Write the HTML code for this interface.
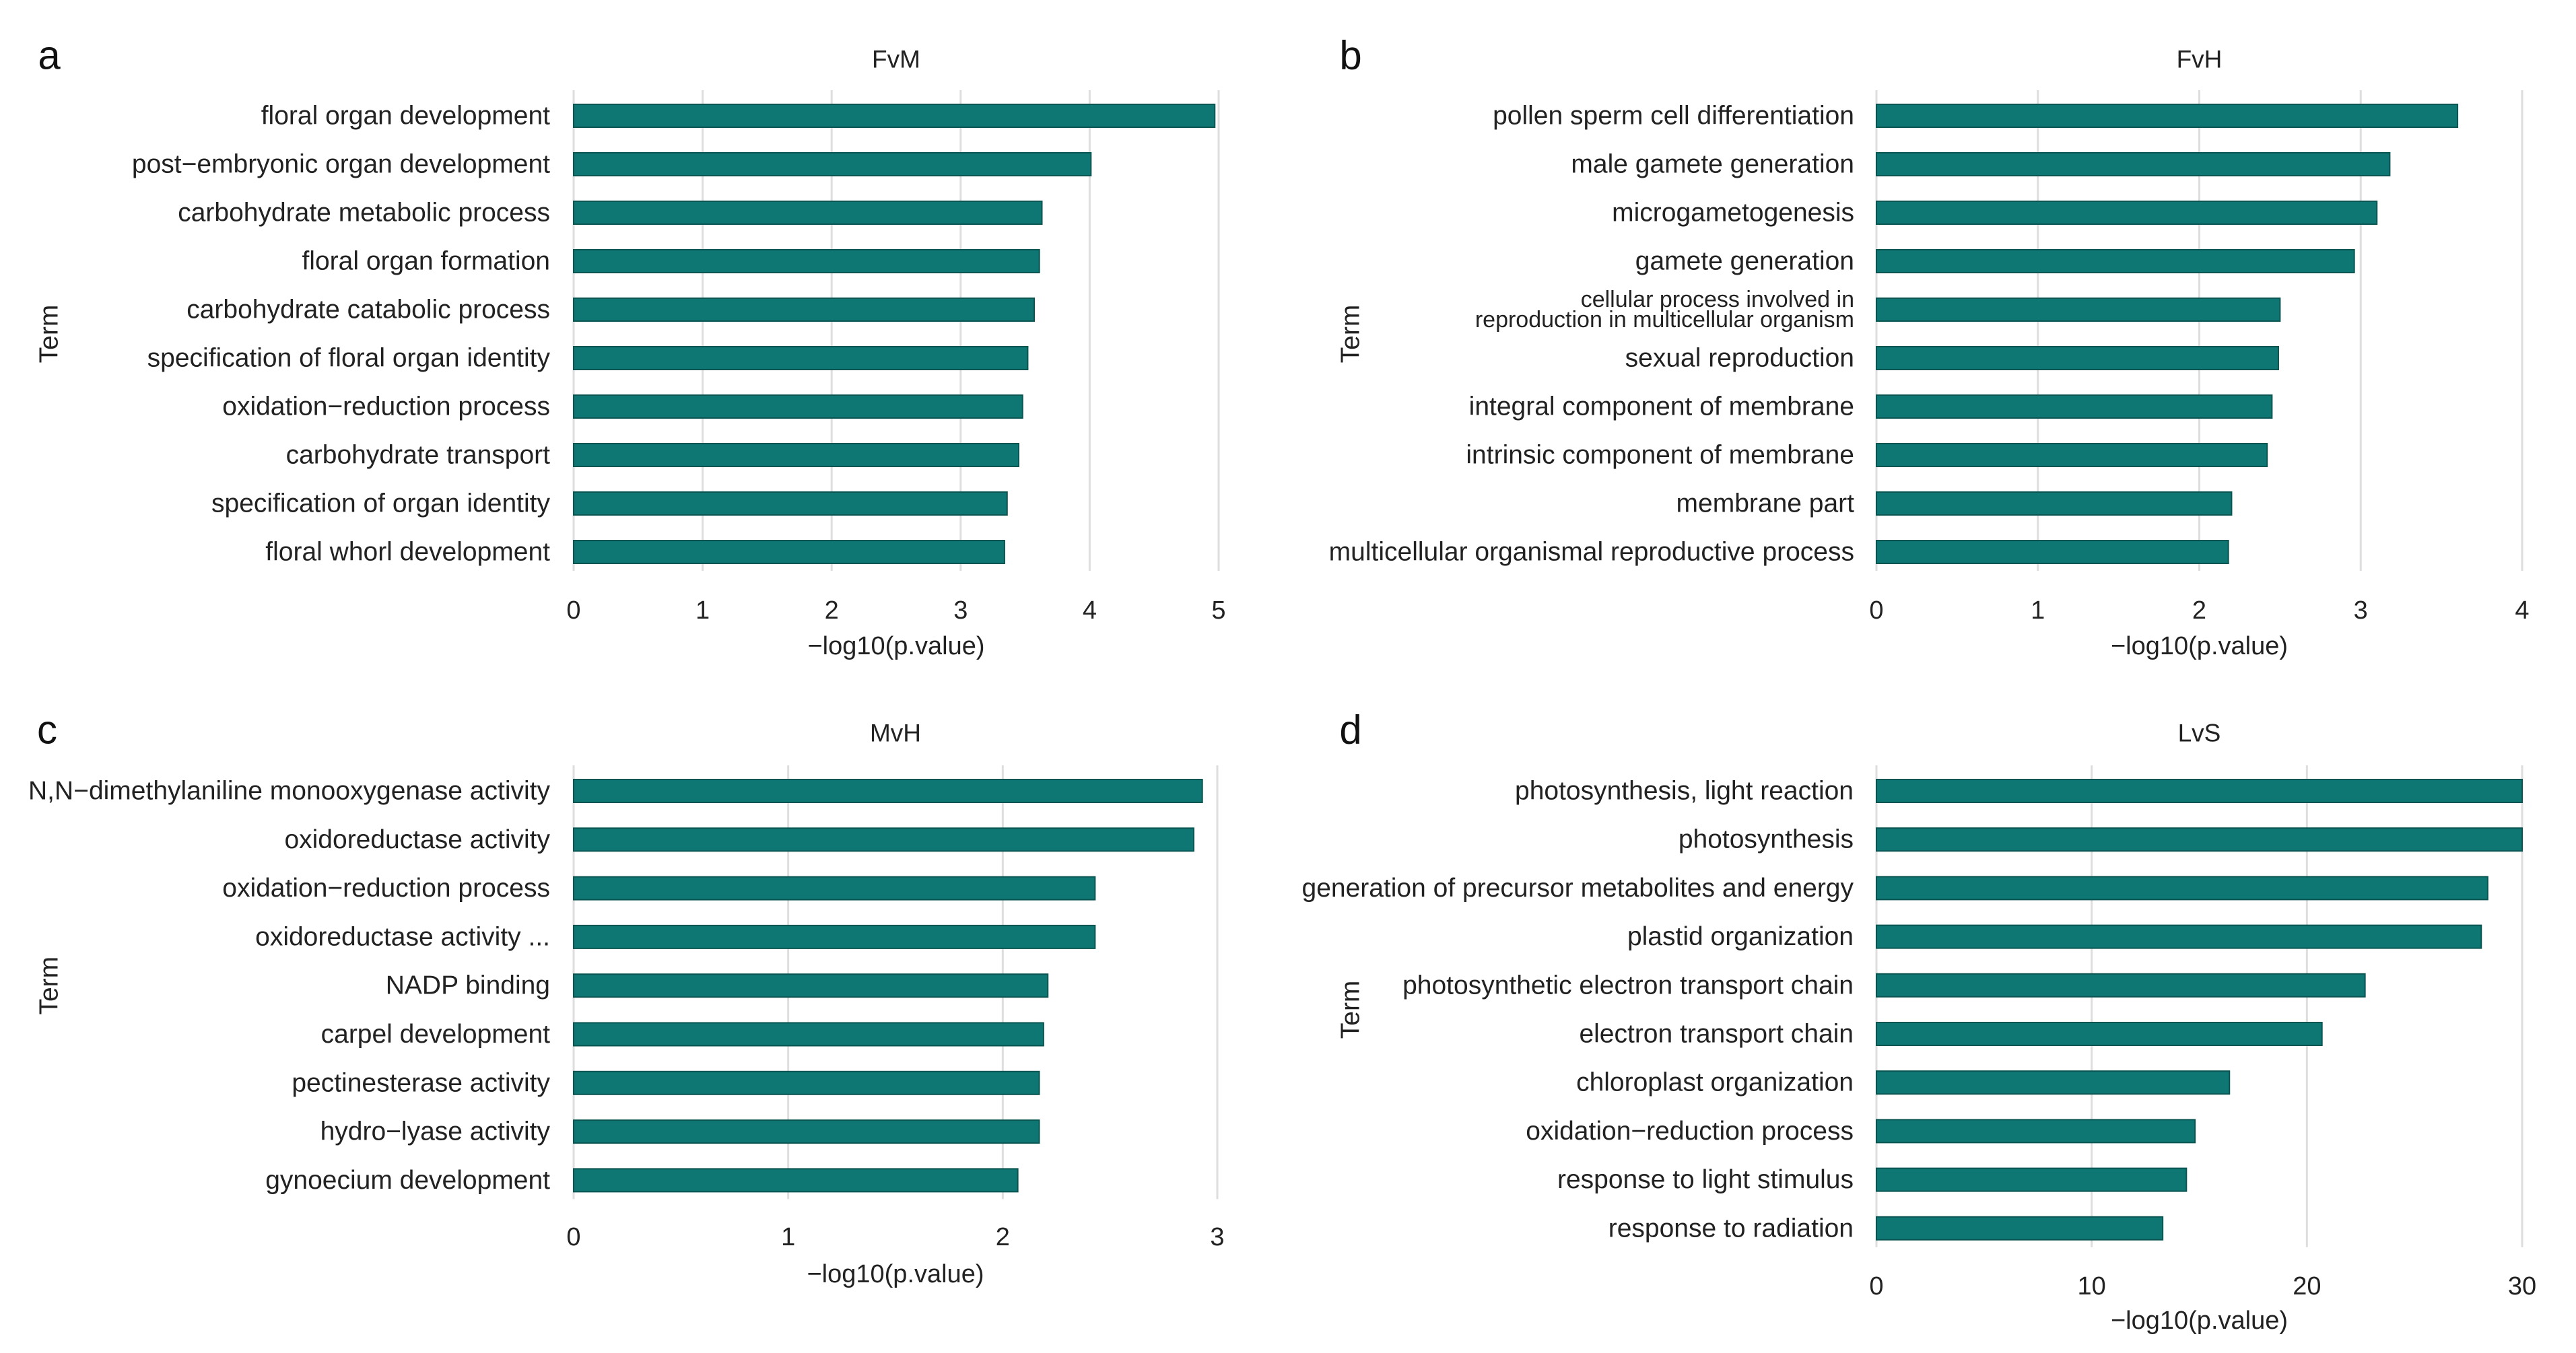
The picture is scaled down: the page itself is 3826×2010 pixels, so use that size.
<!DOCTYPE html>
<html><head><meta charset="utf-8"><style>
html,body{margin:0;padding:0;background:#fff;}
svg{display:block;font-family:"Liberation Sans",Arial,sans-serif;}
</style></head><body>
<svg id="chart" width="3826" height="2010" viewBox="0 0 3826 2010" xmlns="http://www.w3.org/2000/svg"></svg>
<script>
const termsA = ["floral organ development","post−embryonic organ development","carbohydrate metabolic process","floral organ formation","carbohydrate catabolic process","specification of floral organ identity","oxidation−reduction process","carbohydrate transport","specification of organ identity","floral whorl development"];
const valuesA = [4.97,4.01,3.63,3.61,3.57,3.52,3.48,3.45,3.36,3.34];
const ticksA = [0,1,2,3,4,5];
const termsB = ["pollen sperm cell differentiation","male gamete generation","microgametogenesis","gamete generation","cellular process involved in\nreproduction in multicellular organism","sexual reproduction","integral component of membrane","intrinsic component of membrane","membrane part","multicellular organismal reproductive process"];
const valuesB = [3.60,3.18,3.10,2.96,2.50,2.49,2.45,2.42,2.20,2.18];
const ticksB = [0,1,2,3,4];
const termsC = ["N,N−dimethylaniline monooxygenase activity","oxidoreductase activity","oxidation−reduction process","oxidoreductase activity ...","NADP binding","carpel development","pectinesterase activity","hydro−lyase activity","gynoecium development"];
const valuesC = [2.93,2.89,2.43,2.43,2.21,2.19,2.17,2.17,2.07];
const ticksC = [0,1,2,3];
const termsD = ["photosynthesis, light reaction","photosynthesis","generation of precursor metabolites and energy","plastid organization","photosynthetic electron transport chain","electron transport chain","chloroplast organization","oxidation−reduction process","response to light stimulus","response to radiation"];
const valuesD = [30,30,28.4,28.1,22.7,20.7,16.4,14.8,14.4,13.3];
const ticksD = [0,10,20,30];

const NS="http://www.w3.org/2000/svg";
const svg=document.getElementById('chart');
function mk(tag,attrs,parent){const e=document.createElementNS(NS,tag);for(const k in attrs)e.setAttribute(k,attrs[k]);(parent||svg).appendChild(e);return e;}

function panel(cfg){
  const g=mk('g',{});
  
  
  const x=v=>cfg.x0+(v-cfg.dmin)/(cfg.dmax-cfg.dmin)*(cfg.x1-cfg.x0);
  const y=i=>cfg.y0+i*cfg.step;
  const n=cfg.terms.length;
  const gTop=y(0)-38, gBot=y(n-1)+28;
  cfg.ticks.forEach(t=>{
    const l=mk('line',{x1:x(t),x2:x(t),y1:gTop,y2:gBot,stroke:'#dedede','stroke-width':3},g);
    
    
    const tx=mk('text',{x:x(t),y:cfg.tickY,'font-size':38,fill:'#222','text-anchor':'middle','dominant-baseline':'central'},g);
    tx.textContent=t;
    
    
  });
  cfg.terms.forEach((t,i)=>{
    const b=mk('rect',{x:x(0),y:y(i)-17,width:x(cfg.values[i])-x(0),height:34,fill:'#0e7773',stroke:'#0a5552','stroke-width':2},g);
    
    
    const lines=t.split('\n');
    if(lines.length===1){
      const tx=mk('text',{x:cfg.labelX,y:y(i),'font-size':39,fill:'#222','text-anchor':'end','dominant-baseline':'central'},g);
      tx.textContent=t;
      
      
    } else {
      lines.forEach((ln,j)=>{
        const tx=mk('text',{x:cfg.labelX,y:y(i)-15+j*30,'font-size':34,fill:'#222','text-anchor':'end','dominant-baseline':'central'},g);
        tx.textContent=ln;
        
        
      });
    }
  });
  const ti=mk('text',{x:(x(cfg.dmin)+x(cfg.dmax))/2,y:cfg.titleY,'font-size':37,fill:'#222','text-anchor':'middle','dominant-baseline':'central'},g);
  ti.textContent=cfg.title;
  
  
  const xt=mk('text',{x:(x(cfg.dmin)+x(cfg.dmax))/2,y:cfg.axisTitleY,'font-size':38,fill:'#222','text-anchor':'middle','dominant-baseline':'central'},g);
  xt.textContent='−log10(p.value)';
  
  
  const yc=(y(0)+y(n-1))/2;
  const yt=mk('text',{x:cfg.termX,y:yc,'font-size':39,fill:'#222','text-anchor':'middle','dominant-baseline':'central',transform:`rotate(-90 ${cfg.termX} ${yc})`},g);
  yt.textContent='Term';
  
  
  const lt=mk('text',{x:cfg.letterX,y:cfg.letterY,'font-size':60,fill:'#111','text-anchor':'middle','dominant-baseline':'central'},g);
  lt.textContent=cfg.letter;
  
  
}

panel({letter:'a',title:'FvM',terms:termsA,values:valuesA,ticks:ticksA,dmin:0,dmax:5,x0:852,x1:1810,y0:172,step:72,labelX:817,tickY:907,axisTitleY:960,titleY:88,termX:73,letterX:73,letterY:82});
panel({letter:'b',title:'FvH',terms:termsB,values:valuesB,ticks:ticksB,dmin:0,dmax:4,x0:2787,x1:3746,y0:172,step:72,labelX:2754,tickY:907,axisTitleY:960,titleY:88,termX:2006,letterX:2006,letterY:82});
panel({letter:'c',title:'MvH',terms:termsC,values:valuesC,ticks:ticksC,dmin:0,dmax:3,x0:852,x1:1808,y0:1175,step:72.3,labelX:817,tickY:1838,axisTitleY:1893,titleY:1089,termX:73,letterX:70,letterY:1084});
panel({letter:'d',title:'LvS',terms:termsD,values:valuesD,ticks:ticksD,dmin:0,dmax:30,x0:2787,x1:3746,y0:1175,step:72.2,labelX:2753,tickY:1911,axisTitleY:1962,titleY:1089,termX:2006,letterX:2006,letterY:1084});
</script>
</body></html>
